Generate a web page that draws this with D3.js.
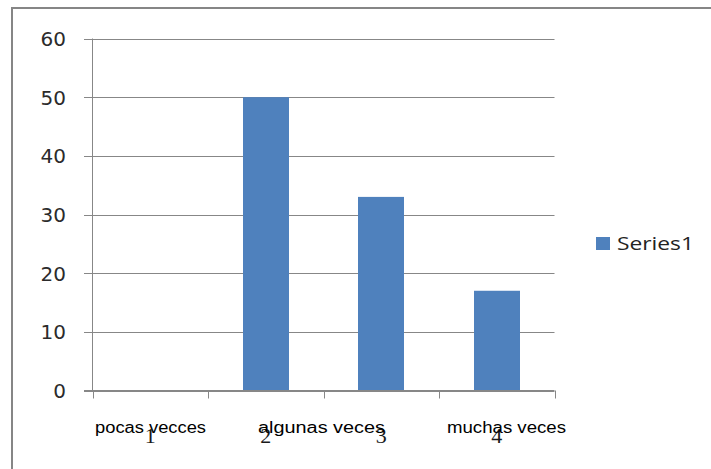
<html lang="en">
<head>
<meta charset="utf-8">
<title>Series1</title>
<script src="https://d3js.org/d3.v7.min.js"></script>
<style>
  body { margin: 0; background: #fff; }
</style>
</head>
<body>
<script>
// data
var categories = ["1", "2", "3", "4"];
var catLabels = ["pocas vecces", "algunas veces", "muchas veces"];
var values = [0, 50, 33, 17];
var yTicks = [0, 10, 20, 30, 40, 50, 60];
var seriesName = "Series1";

var width = 711, height = 469;

var svg = d3.select("body").append("svg")
    .attr("width", width)
    .attr("height", height);

// chart frame (runs off the bottom/right of the picture)
svg.append("rect")
    .attr("x", 12)
    .attr("y", 8)
    .attr("width", 760)
    .attr("height", 500)
    .attr("fill", "#fff")
    .attr("stroke", "#868686")
    .attr("stroke-width", 2);

var x = d3.scaleBand()
    .domain(categories)
    .range([92.5, 554.5])
    .paddingInner(0.6)
    .paddingOuter(0.3);

var xCat = d3.scaleBand()
    .domain(categories)
    .range([92.5, 554.5]);

var y = d3.scaleLinear()
    .domain([0, 60])
    .range([390.5, 38.5]);

// gridlines
svg.append("g")
    .selectAll("line")
    .data(yTicks)
    .enter().append("line")
    .attr("x1", 84)
    .attr("x2", 554.5)
    .attr("y1", function(d) { return Math.round(y(d)) + 0.5; })
    .attr("y2", function(d) { return Math.round(y(d)) + 0.5; })
    .attr("stroke", "#878787")
    .attr("stroke-width", 1);

// y axis line
svg.append("line")
    .attr("x1", 92.5).attr("x2", 92.5)
    .attr("y1", y(60)).attr("y2", y(0))
    .attr("stroke", "#878787");

// y tick labels
svg.append("g")
    .selectAll("text")
    .data(yTicks)
    .enter().append("text")
    .attr("x", 66)
    .attr("y", function(d) { return y(d) + 7.5; })
    .attr("text-anchor", "end")
    .attr("font-family", "'DejaVu Sans', sans-serif")
    .attr("font-size", "20px")
    .attr("fill", "#2b2b2b")
    .text(function(d) { return d; });

// bars
svg.append("g")
    .selectAll("rect")
    .data(values)
    .enter().append("rect")
    .attr("x", function(d, i) { return Math.round(x(categories[i])); })
    .attr("y", function(d) { return y(d); })
    .attr("width", 46)
    .attr("height", function(d) { return y(0) - y(d); })
    .attr("fill", "#4f81bd");

// x axis line + ticks
svg.append("line")
    .attr("x1", 84).attr("x2", 554.5)
    .attr("y1", y(0)).attr("y2", y(0))
    .attr("stroke", "#878787");

var edges = categories.map(function(c) { return xCat(c); }).concat([xCat.range()[1]]);
svg.append("g")
    .selectAll("line")
    .data(edges)
    .enter().append("line")
    .attr("x1", function(d) { return Math.round(d) + 0.5; })
    .attr("x2", function(d) { return Math.round(d) + 0.5; })
    .attr("y1", y(0))
    .attr("y2", y(0) + 8)
    .attr("stroke", "#878787");

// category numbers (serif, overlapping the text labels)
svg.append("g")
    .selectAll("text")
    .data(categories)
    .enter().append("text")
    .attr("x", function(d) { return xCat(d) + xCat.bandwidth() / 2; })
    .attr("y", 443)
    .attr("text-anchor", "middle")
    .attr("font-family", "'Liberation Serif', serif")
    .attr("font-size", "22px")
    .attr("fill", "#1a1a1a")
    .text(function(d) { return d; });

// category text labels
var labelX = [95, 258, 447];
var labelW = [111, 127, 119];
svg.append("g")
    .selectAll("text")
    .data(catLabels)
    .enter().append("text")
    .attr("x", function(d, i) { return labelX[i]; })
    .attr("y", 433)
    .attr("font-family", "'Liberation Sans Narrow', 'Liberation Sans', sans-serif")
    .attr("font-size", "16px")
    .attr("textLength", function(d, i) { return labelW[i]; })
    .attr("lengthAdjust", "spacingAndGlyphs")
    .attr("fill", "#000")
    .text(function(d) { return d; });

// legend
svg.append("rect")
    .attr("x", 596)
    .attr("y", 237)
    .attr("width", 14)
    .attr("height", 13)
    .attr("fill", "#4f81bd");

svg.append("text")
    .attr("x", 617)
    .attr("y", 250)
    .attr("font-family", "'Open Sans', 'DejaVu Sans', sans-serif")
    .attr("font-size", "18px")
    .attr("textLength", 77)
    .attr("lengthAdjust", "spacingAndGlyphs")
    .attr("fill", "#222")
    .text(seriesName);
</script>
</body>
</html>
